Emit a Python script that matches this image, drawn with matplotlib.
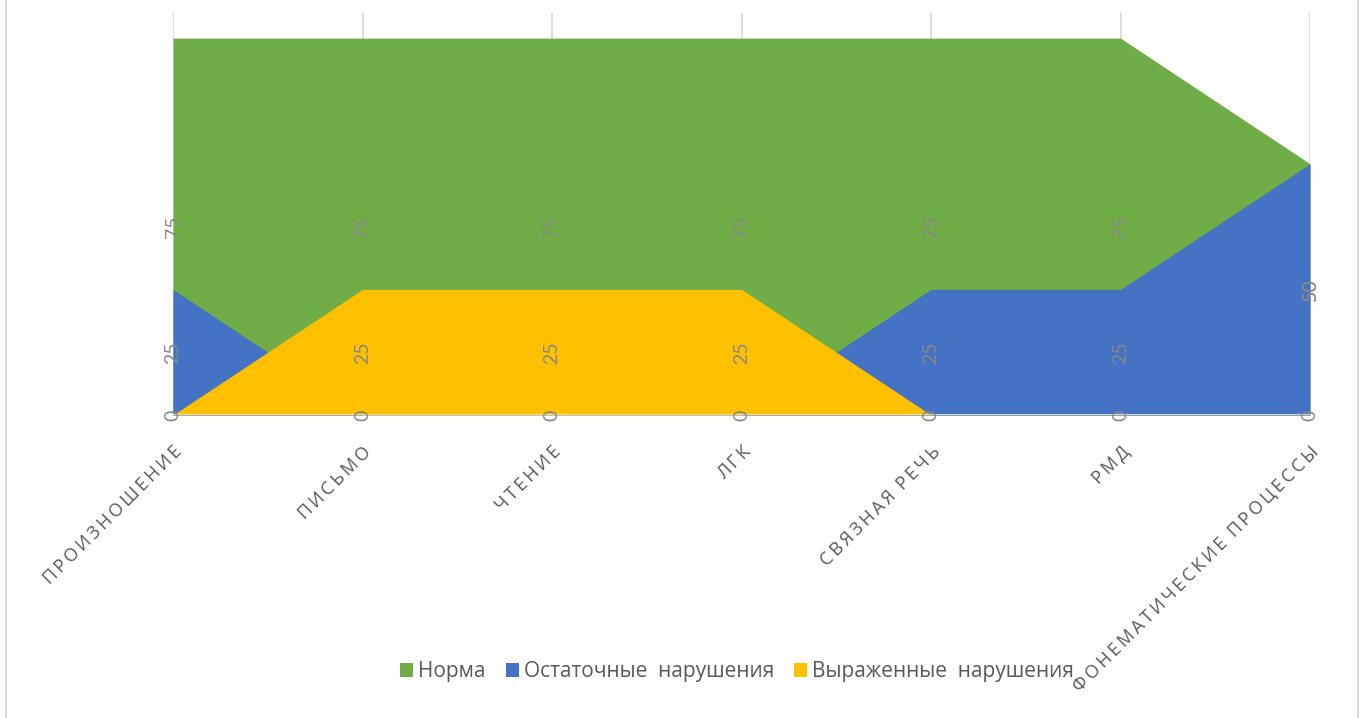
import matplotlib
matplotlib.use("Agg")
import matplotlib.pyplot as plt
from matplotlib.lines import Line2D
import numpy as np

categories = ["ПРОИЗНОШЕНИЕ", "ПИСЬМО", "ЧТЕНИЕ", "ЛГК", "СВЯЗНАЯ РЕЧЬ", "РМД",
              "ФОНЕМАТИЧЕСКИЕ ПРОЦЕССЫ"]
norma = [75, 75, 75, 75, 75, 75, 50]
ostatochnye = [25, 0, 0, 0, 25, 25, 50]
vyrazhennye = [0, 25, 25, 25, 0, 0, 0]
series_names = ["Норма", "Остаточные  нарушения", "Выраженные  нарушения"]
colors = ["#70AD47", "#4472C4", "#FFC000"]

FAM = ["Open Sans", "DejaVu Sans"]

fig = plt.figure(figsize=(13.64, 7.18), dpi=100)
ax = fig.add_axes([173/1364, 1-415/718, (1310-173)/1364, (415-13)/718])

x = np.arange(len(categories))
series = [norma, ostatochnye, vyrazhennye]
for vals, c, name in zip(series, colors, series_names):
    ax.fill_between(x, 0, vals, color=c, linewidth=0, label=name, zorder=2)

ax.set_xlim(0, len(categories)-1)
ax.set_ylim(0, 80)
for xi in x:
    ax.axvline(xi, color="#D9D9D9", lw=1.3, zorder=1)
ax.axhline(0, color="#D9D9D9", lw=1.5, zorder=3)
for s in ax.spines.values():
    s.set_visible(False)
ax.set_yticks([])
ax.tick_params(axis="x", length=0, pad=20)
ax.set_xticks(x)

def spaced(s):
    return "\u2009".join(list(s)).replace("\u2009 \u2009", "\u2009\u2009\u2009")

ax.set_xticklabels([spaced(c) for c in categories], rotation=45, ha="right",
                   va="top", rotation_mode="anchor", color="#595959",
                   fontsize=13, family=FAM)

# data labels (centered at half value, rotated)
for vals in series:
    for xi, v in zip(x, vals):
        ax.text(xi, v/2, f"{v}", rotation=90, ha="center", va="center",
                fontsize=14, color="#888888", family=["Lato", "DejaVu Sans"], zorder=5)

leg = fig.legend(loc="center", bbox_to_anchor=(737/1364, 1-672/718), ncol=3,
                 frameon=False, handlelength=0.62, handleheight=0.62,
                 handletextpad=0.25, columnspacing=0.95,
                 prop={"family": FAM, "size": 15})
for t in leg.get_texts():
    t.set_color("#595959")

fig.add_artist(Line2D([6/1364, 6/1364], [0, 1], color="#D9D9D9", lw=1.5))
fig.add_artist(Line2D([1358/1364, 1358/1364], [0, 1], color="#D9D9D9", lw=1.5))

fig.savefig("out.png", dpi=100)
